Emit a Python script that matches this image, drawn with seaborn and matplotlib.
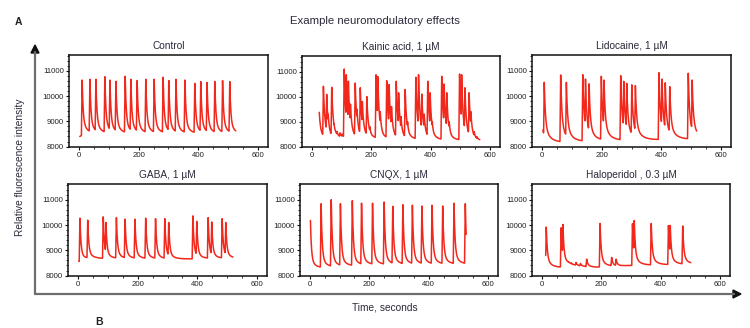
import numpy as np
import pandas as pd
import matplotlib
matplotlib.use("Agg")
import matplotlib.pyplot as plt
from matplotlib.lines import Line2D
import seaborn as sns

# ---------------- data ----------------
titles = ["Control", "Kainic acid, 1 \u00b5M", "Lidocaine, 1 \u00b5M",
          "GABA, 1 \u00b5M", "CNQX, 1 \u00b5M", "Haloperidol , 0.3 \u00b5M"]

# recording span (s)
control_span = [3, 525]
kainic_span = [25, 565]
lidocaine_span = [4, 518]
gaba_span = [3, 519]
cnqx_span = [2, 526]
halo_span = [13, 501]

# event times (s) and peak intensities
control_t = [11, 37, 57, 87, 104, 124, 155, 174, 195, 224, 252, 282, 301, 325, 355, 388, 408, 429, 455, 481, 505]
control_p = [10630, 10660, 10660, 10760, 10630, 10580, 10780, 10660, 10610, 10660, 10660, 10740, 10610, 10660, 10630, 10500, 10570, 10530, 10570, 10610, 10570]
control_bt = [3, 20, 525]
control_bv = [8400, 8520, 8500]

kainic_t = [24, 39, 50, 55, 67, 75, 85, 95, 102, 109, 116, 123, 130, 146, 152, 163, 170, 185, 195,
            216, 222, 230, 252, 260, 268, 284, 292, 300, 314, 322, 350, 359, 370, 378, 390, 398, 405,
            437, 445, 454, 462, 497, 504, 515, 529, 535, 546, 555]
kainic_p = [9600, 10410, 10090, 9300, 10370, 8900, 8600, 8550, 8500, 11100, 10870, 10610, 9700, 10540, 9500, 10350, 9800, 10000, 8800,
            10870, 10800, 9400, 10630, 10480, 9600, 10610, 10150, 9200, 10280, 9000, 10770, 10870, 10100, 9300, 10610, 10150, 9000,
            10810, 10500, 10150, 9000, 10900, 10870, 10350, 10150, 9400, 8600, 8400]
kainic_bt = [25, 100, 300, 565]
kainic_bv = [8300, 8350, 8300, 8250]

lidocaine_t = [3, 8, 63, 82, 137, 146, 158, 199, 208, 264, 274, 284, 301, 313, 392, 402, 413, 428, 490, 503]
lidocaine_p = [8780, 10540, 10830, 10540, 10840, 10670, 10480, 10780, 10630, 10800, 10580, 10500, 10440, 10410, 10920, 10670, 10520, 10370, 10900, 10630]
lidocaine_bt = [4, 60, 200, 400, 518]
lidocaine_bv = [8150, 8170, 8230, 8280, 8300]

gaba_t = [7, 33, 85, 94, 129, 158, 191, 227, 260, 291, 304, 385, 398, 436, 448, 483, 495]
gaba_p = [10270, 10190, 10320, 10100, 10290, 10230, 10230, 10270, 10250, 10250, 10100, 10360, 10140, 10290, 10120, 10250, 10100]
gaba_bt = [3, 40, 300, 519]
gaba_bv = [8560, 8680, 8650, 8680]

cnqx_t = [2, 38, 72, 103, 143, 174, 211, 250, 279, 313, 345, 377, 411, 447, 485, 523]
cnqx_p = [10180, 10840, 11000, 10840, 10960, 10860, 10860, 10910, 10740, 10800, 10780, 10750, 10780, 10750, 10860, 10840]
cnqx_bt = [2, 30, 200, 526]
cnqx_bv = [8300, 8300, 8420, 8450]

halo_t = [11, 15, 65, 71, 90, 100, 115, 130, 151, 196, 235, 250, 305, 311, 368, 426, 432, 474]
halo_p = [9070, 9920, 9890, 10020, 8550, 8500, 8520, 8480, 8650, 10060, 8720, 8650, 10050, 10180, 10060, 9980, 9980, 9960]
halo_bt = [13, 60, 90, 150, 180, 300, 501]
halo_bv = [8320, 8320, 8420, 8350, 8330, 8400, 8450]

# waveform shape per panel: fast decay tau, slow decay tau, slow fraction
shape = [(3.5, 16.0, 0.20), (4.0, 12.0, 0.32), (4.0, 18.0, 0.27),
         (3.5, 16.0, 0.17), (3.5, 16.0, 0.17), (3.5, 16.0, 0.22)]

panels = [
    (control_span, control_t, control_p, control_bt, control_bv),
    (kainic_span, kainic_t, kainic_p, kainic_bt, kainic_bv),
    (lidocaine_span, lidocaine_t, lidocaine_p, lidocaine_bt, lidocaine_bv),
    (gaba_span, gaba_t, gaba_p, gaba_bt, gaba_bv),
    (cnqx_span, cnqx_t, cnqx_p, cnqx_bt, cnqx_bv),
    (halo_span, halo_t, halo_p, halo_bt, halo_bv),
]


def build_trace(span, et, ep, bt, bv, shp):
    tf, ts, fs = shp
    t = np.arange(span[0], span[1] + 0.25, 0.5)
    base = np.interp(t, bt, bv)
    out = base.copy()
    rise = 2.5
    for ti, pi in zip(et, ep):
        amp = pi - np.interp(ti, bt, bv)
        dt = t - ti
        k = np.zeros_like(t)
        r = (dt >= -rise) & (dt < 0)
        k[r] = 1 + dt[r] / rise
        d = dt >= 0
        k[d] = (1 - fs) * np.exp(-dt[d] / tf) + fs * np.exp(-dt[d] / ts)
        out = np.maximum(out, base + amp * k)
    return pd.DataFrame({"time": t, "intensity": out})


# ---------------- figure ----------------
sns.set_theme(style="ticks")
plt.rcParams["font.family"] = ["Liberation Sans", "DejaVu Sans"]

W, H = 750, 328
fig = plt.figure(figsize=(W / 100, H / 100), dpi=100)

# axes boxes in pixels (x0, x1, y0_top, y1_bottom)
boxes = [(69, 268, 55, 147), (302, 500, 56, 147), (532, 731, 55, 147),
         (68, 267, 184, 276), (300, 498, 184, 276), (532, 730, 184, 276)]

red = "#f2281c"
for i, (box, pan) in enumerate(zip(boxes, panels)):
    x0, x1, y0, y1 = box
    ax = fig.add_axes([x0 / W, 1 - y1 / H, (x1 - x0) / W, (y1 - y0) / H])
    df = build_trace(*pan, shape[i])
    sns.lineplot(data=df, x="time", y="intensity", ax=ax, color=red, lw=1.1,
                 estimator=None, sort=False)
    ax.set_xlim(-33, 633)
    ax.set_ylim(7985, 11620)
    ax.set_xticks([0, 200, 400, 600])
    ax.set_xticks(np.arange(-0, 601, 50), minor=True)
    ax.set_yticks([8000, 9000, 10000, 11000])
    ax.set_yticks(np.arange(8000, 11601, 200), minor=True)
    ax.set_xlabel("")
    ax.set_ylabel("")
    ax.set_title(titles[i], fontsize=7.3, color="#2a2a3a", pad=4)
    for s in ax.spines.values():
        s.set_linewidth(1.1)
        s.set_color("#111111")
        s.set_visible(True)
    ax.tick_params(axis="both", which="major", labelsize=5.6, length=2.5, width=0.8,
                   pad=1.2, colors="#111111")
    ax.tick_params(axis="both", which="minor", length=1.3, width=0.6, colors="#111111")
    ax.tick_params(labelcolor="#222222")

# big L-shaped axis frame with arrows
ax_col = "#6e6e6e"
fig.add_artist(Line2D([35 / W, 35 / W], [1 - 294 / H, 1 - 52 / H], color=ax_col, lw=1.6,
                      transform=fig.transFigure))
fig.add_artist(Line2D([35 / W, 734 / W], [1 - 294 / H, 1 - 294 / H], color=ax_col, lw=1.6,
                      transform=fig.transFigure))
fig.patches.append(plt.Polygon([[31 / W, 1 - 53 / H], [39 / W, 1 - 53 / H], [35 / W, 1 - 45 / H]],
                               closed=True, color="#111111", transform=fig.transFigure))
fig.patches.append(plt.Polygon([[733 / W, 1 - 290 / H], [733 / W, 1 - 298 / H], [741 / W, 1 - 294 / H]],
                               closed=True, color="#111111", transform=fig.transFigure))

fig.text(375 / W, 1 - 21 / H, "Example neuromodulatory effects", ha="center", va="center",
         fontsize=8.2, color="#2a2a3a")
fig.text(20 / W, 1 - 167 / H, "Relative fluorescence intensity", ha="center", va="center",
         rotation=90, fontsize=7.3, color="#2a2a3a")
fig.text(385 / W, 1 - 308 / H, "Time, seconds", ha="center", va="center",
         fontsize=7.3, color="#2a2a3a")
fig.text(18 / W, 1 - 22 / H, "A", ha="center", va="center", fontsize=7.5,
         fontweight="bold", color="#222222")
fig.text(99 / W, 1 - 322 / H, "B", ha="center", va="center", fontsize=7.5,
         fontweight="bold", color="#222222")

fig.savefig("out.png", dpi=100)
